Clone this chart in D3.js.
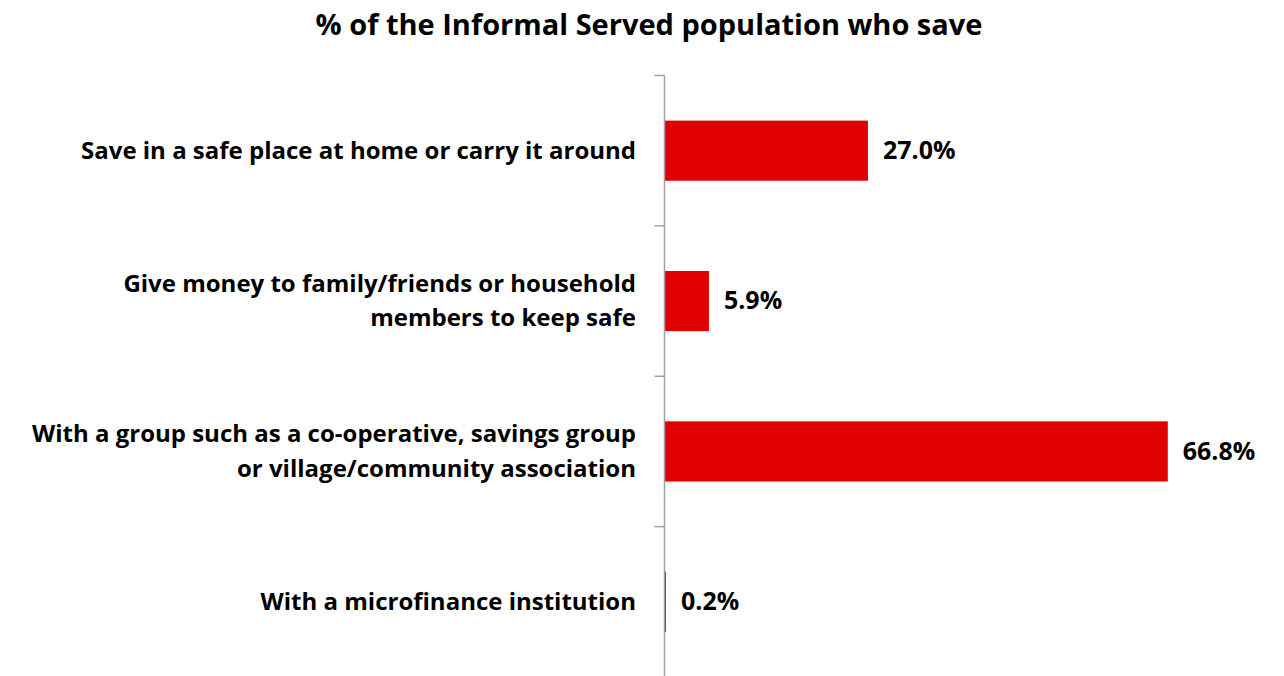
<!DOCTYPE html>
<html>
<head>
<meta charset="utf-8">
<script src="https://cdn.jsdelivr.net/npm/d3@7"></script>
<style>
  html, body { margin: 0; padding: 0; background: #fff; }
  svg { display: block; }
  text { font-family: "Open Sans", Lato, sans-serif; font-weight: 700; fill: #000; }
</style>
</head>
<body>
<svg id="chart" width="1284" height="676"></svg>
<script>
// Savings channels used by the Informal Served population
const categories = [
  ["Save in a safe place at home or carry it around"],
  ["Give money to family/friends or household", "members to keep safe"],
  ["With a group such as a co-operative, savings group", "or village/community association"],
  ["With a microfinance institution"]
];
const values = [27.0, 5.9, 66.8, 0.2];
const valueLabels = ["27.0%", "5.9%", "66.8%", "0.2%"];
const title = "% of the Informal Served population who save";

const svg = d3.select("#chart");
const axisX = 664.5;

const keys = categories.map(c => c.join(" "));

const x = d3.scaleLinear().domain([0, 70]).range([axisX, axisX + 527.4]);
const y = d3.scaleBand().domain(keys).range([75.5, 677]).paddingInner(0.6).paddingOuter(0.3);

// Title
svg.append("text")
  .attr("x", 649).attr("y", 35)
  .attr("text-anchor", "middle")
  .style("font-size", "29px")
  .text(title);

// Bars
svg.selectAll("rect.bar")
  .data(values)
  .join("rect")
  .attr("class", "bar")
  .attr("x", x(0))
  .attr("y", (d, i) => y(keys[i]))
  .attr("width", d => x(d) - x(0))
  .attr("height", y.bandwidth())
  .attr("fill", "#e00000");

// Vertical category axis with tick marks between bands
const step = y.step();
const tickYs = d3.range(keys.length + 1).map(i => y.range()[0] + i * step);
const axisG = svg.append("g");
axisG.append("line")
  .attr("x1", axisX).attr("x2", axisX)
  .attr("y1", tickYs[0]).attr("y2", tickYs[tickYs.length - 1])
  .attr("stroke", "#a0a0a0").attr("stroke-width", 1.5);
axisG.selectAll("line.tick")
  .data(tickYs)
  .join("line")
  .attr("class", "tick")
  .attr("x1", axisX - 10).attr("x2", axisX)
  .attr("y1", d => d).attr("y2", d => d)
  .attr("stroke", "#a0a0a0").attr("stroke-width", 1.5);

// Category labels
const lineGap = 34.5;
svg.selectAll("text.cat")
  .data(categories)
  .join("text")
  .attr("class", "cat")
  .attr("text-anchor", "end")
  .style("font-size", "24px")
  .each(function(lines, i) {
    const cy = y(keys[i]) + y.bandwidth() / 2;
    const t = d3.select(this);
    lines.forEach((ln, j) => {
      t.append("tspan")
        .attr("x", 636)
        .attr("y", cy + (j - (lines.length - 1) / 2) * lineGap)
        .attr("dy", "0.33em")
        .text(ln);
    });
  });

// Value labels
svg.selectAll("text.val")
  .data(values)
  .join("text")
  .attr("class", "val")
  .attr("x", d => x(d) + 15)
  .attr("y", (d, i) => y(keys[i]) + y.bandwidth() / 2)
  .attr("dy", "0.33em")
  .style("font-size", "25px")
  .text((d, i) => valueLabels[i]);
</script>
</body>
</html>
